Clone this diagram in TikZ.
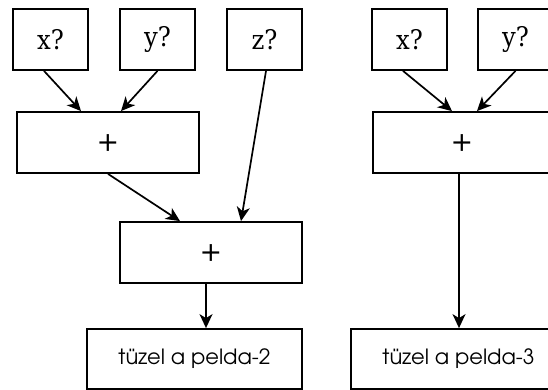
\documentclass[tikz,border=0pt]{standalone}
\usepackage{fontspec}
\usetikzlibrary{arrows.meta}
\newfontfamily\qfont{DejaVu Serif Condensed}
\newfontfamily\gothic{texgyreadventor-regular.otf}
\begin{document}
\begin{tikzpicture}[x=1pt,y=-1pt,
  box/.style={draw, line width=1.8pt, inner sep=0pt, minimum height=61pt},
  qbox/.style={box, minimum width=75pt, font=\qfont\fontsize{27}{27}\selectfont},
  opbox/.style={box, minimum width=182pt, font=\gothic\fontsize{30}{30}\selectfont},
  outbox/.style={box, minimum width=215pt, minimum height=60pt, font=\gothic\fontsize{21}{21}\selectfont},
  arr/.style={-{Stealth[length=14pt,width=13pt,inset=4pt]}, line width=1.7pt}]
\useasboundingbox (0,0) rectangle (548,390);
\clip (0,0) rectangle (548,390);
\fill[white] (0,0) rectangle (548,390);

% first graph: (x? + y?) + z?
\node[qbox] (x1) at (50.5,39.5) {x?};
\node[qbox] (y1) at (157.5,39.5) {y?};
\node[qbox] (z1) at (264.5,39.5) {z?};
\node[opbox] (p1) at (108,142.5) {+};
\node[opbox] (p2) at (211,252.5) {+};
\node[outbox] (t2) at (194.5,359) {tüzel a pelda-2};

\draw[arr] ([xshift=-6.5pt]x1.south) -- ([xshift=-27pt]p1.north);
\draw[arr] (y1.south) -- ([xshift=13pt]p1.north);
\draw[arr] ([xshift=1.5pt]z1.south) -- ([xshift=30pt]p2.north);
\draw[arr] (p1.south) -- ([xshift=-31pt]p2.north);
\draw[arr] ([xshift=-5pt]p2.south) -- ([xshift=11.5pt]t2.north);

% second graph: x? + y?
\node[qbox] (x2) at (409.5,39.5) {x?};
\node[qbox] (y2) at (515.5,39.5) {y?};
\node[opbox, minimum width=178pt] (p3) at (462,142.5) {+};
\node[outbox] (t3) at (458.5,359) {tüzel a pelda-3};

\draw[arr] ([xshift=-6.5pt]x2.south) -- ([xshift=-10pt]p3.north);
\draw[arr] (y2.south) -- ([xshift=15pt]p3.north);
\draw[arr] ([xshift=-3pt]p3.south) -- ([xshift=0.5pt]t3.north);
\end{tikzpicture}
\end{document}
